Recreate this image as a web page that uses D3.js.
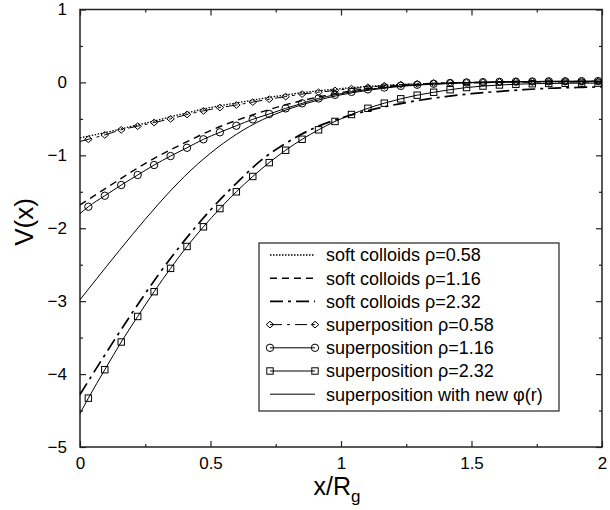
<!DOCTYPE html>
<html>
<head>
<meta charset="utf-8">
<script src="https://cdn.jsdelivr.net/npm/d3@7"></script>
<style>
  body { margin: 0; background: #fff; }
  text { font-family: "Liberation Sans", Arial, sans-serif; }
</style>
</head>
<body>
<div id="chart"></div>
<script>
// values
const xTicks = [0, 0.5, 1, 1.5, 2];
const xTickLabels = ["0", "0.5", "1", "1.5", "2"];
const xMinor = [0.25, 0.75, 1.25, 1.75];
const yTicks = [1, 0, -1, -2, -3, -4, -5];
const yTickLabels = ["1", "0", "\u22121", "\u22122", "\u22123", "\u22124", "\u22125"];
const yMinor = [0.5, -0.5, -1.5, -2.5, -3.5, -4.5];

// soft colloid curves (no markers)
const softX = [0, 0.1, 0.2, 0.3, 0.4, 0.5, 0.6, 0.7, 0.8, 0.9, 1.0, 1.1, 1.2, 1.3, 1.4, 1.5, 1.6, 1.7, 1.8, 1.9, 2.0];
const soft058 = [-0.76, -0.685, -0.60, -0.515, -0.425, -0.345, -0.28, -0.22, -0.165, -0.12, -0.085, -0.055, -0.035, -0.02, -0.01, -0.003, 0.002, 0.005, 0.007, 0.008, 0.008];
const soft116 = [-1.68, -1.45, -1.22, -1.01, -0.83, -0.66, -0.52, -0.40, -0.295, -0.21, -0.14, -0.085, -0.05, -0.03, -0.015, -0.005, 0.002, 0.006, 0.008, 0.01, 0.01];
const soft232 = [-4.28, -3.71, -3.16, -2.64, -2.17, -1.75, -1.38, -1.05, -0.81, -0.62, -0.49, -0.39, -0.31, -0.245, -0.195, -0.155, -0.125, -0.10, -0.08, -0.07, -0.06];
const newPhi = [-2.98, -2.53, -2.09, -1.67, -1.29, -0.97, -0.71, -0.51, -0.365, -0.255, -0.17, -0.11, -0.065, -0.035, -0.015, -0.003, 0.004, 0.009, 0.012, 0.014, 0.015];

// superposition curves: first point at x=0 has no marker
const superX = [0, 0.032, 0.095, 0.158, 0.221, 0.284, 0.347, 0.410, 0.473, 0.536, 0.599, 0.662, 0.725, 0.788, 0.851, 0.914, 0.977, 1.040, 1.103, 1.166, 1.229, 1.292, 1.355, 1.418, 1.481, 1.544, 1.607, 1.670, 1.733, 1.796, 1.859, 1.922, 1.985];
const super058 = [-0.81, -0.78, -0.72, -0.65, -0.60, -0.55, -0.50, -0.44, -0.39, -0.345, -0.31, -0.27, -0.23, -0.195, -0.16, -0.135, -0.11, -0.085, -0.065, -0.045, -0.03, -0.02, -0.01, -0.004, 0.0, 0.004, 0.007, 0.01, 0.012, 0.014, 0.015, 0.016, 0.017];
const super116 = [-1.80, -1.705, -1.554, -1.407, -1.27, -1.133, -1.01, -0.896, -0.78, -0.684, -0.594, -0.506, -0.433, -0.356, -0.287, -0.22, -0.17, -0.13, -0.095, -0.07, -0.048, -0.032, -0.018, -0.008, -0.001, 0.004, 0.008, 0.011, 0.013, 0.015, 0.016, 0.017, 0.018];
const super232 = [-4.54, -4.33, -3.94, -3.56, -3.21, -2.87, -2.55, -2.25, -1.98, -1.73, -1.50, -1.29, -1.10, -0.93, -0.78, -0.65, -0.535, -0.44, -0.355, -0.285, -0.225, -0.175, -0.135, -0.10, -0.07, -0.05, -0.035, -0.025, -0.018, -0.014, -0.012, -0.01, -0.01];

const legendLabels = [
  "soft colloids \u03c1=0.58",
  "soft colloids \u03c1=1.16",
  "soft colloids \u03c1=2.32",
  "superposition \u03c1=0.58",
  "superposition \u03c1=1.16",
  "superposition \u03c1=2.32",
  "superposition with new \u03c6(r)"
];

const width = 610, height = 510;
const svg = d3.select("#chart").append("svg")
  .attr("width", width)
  .attr("height", height);

const x = d3.scaleLinear().domain([0, 2]).range([80, 602]);
const y = d3.scaleLinear().domain([-5, 1]).range([447, 9.5]);

const axisColor = "#222";

// axes with inward ticks, mirrored on top and right
function styleAxis(g) {
  g.select(".domain").remove();
  g.selectAll("line").attr("stroke", axisColor).attr("stroke-width", 1.2);
  g.selectAll("text").attr("fill", "#000").style("font-size", "17px");
}

svg.append("g")
  .attr("transform", "translate(0," + y(-5) + ")")
  .call(d3.axisBottom(x).tickValues(xTicks).tickSize(-6).tickPadding(10)
    .tickFormat((d, i) => xTickLabels[i]))
  .call(styleAxis);
svg.append("g")
  .attr("transform", "translate(0," + y(-5) + ")")
  .call(d3.axisBottom(x).tickValues(xMinor).tickSize(-3).tickFormat(""))
  .call(styleAxis);
svg.append("g")
  .attr("transform", "translate(0," + y(1) + ")")
  .call(d3.axisTop(x).tickValues(xTicks).tickSize(-6).tickFormat(""))
  .call(styleAxis);
svg.append("g")
  .attr("transform", "translate(0," + y(1) + ")")
  .call(d3.axisTop(x).tickValues(xMinor).tickSize(-3).tickFormat(""))
  .call(styleAxis);

svg.append("g")
  .attr("transform", "translate(" + x(0) + ",0)")
  .call(d3.axisLeft(y).tickValues(yTicks).tickSize(-6).tickPadding(13)
    .tickFormat((d, i) => yTickLabels[i]))
  .call(styleAxis);
svg.append("g")
  .attr("transform", "translate(" + x(0) + ",0)")
  .call(d3.axisLeft(y).tickValues(yMinor).tickSize(-3).tickFormat(""))
  .call(styleAxis);
svg.append("g")
  .attr("transform", "translate(" + x(2) + ",0)")
  .call(d3.axisRight(y).tickValues(yTicks).tickSize(-6).tickFormat(""))
  .call(styleAxis);
svg.append("g")
  .attr("transform", "translate(" + x(2) + ",0)")
  .call(d3.axisRight(y).tickValues(yMinor).tickSize(-3).tickFormat(""))
  .call(styleAxis);

// frame
svg.append("rect")
  .attr("x", x(0)).attr("y", y(1))
  .attr("width", x(2) - x(0)).attr("height", y(-5) - y(1))
  .attr("fill", "none").attr("stroke", axisColor).attr("stroke-width", 1.5);

// axis titles
svg.append("text")
  .attr("transform", "translate(33," + 222 + ") rotate(-90)")
  .attr("text-anchor", "middle")
  .style("font-size", "26px")
  .text("V(x)");

const xt = svg.append("text")
  .attr("x", 337).attr("y", 495)
  .attr("text-anchor", "middle")
  .style("font-size", "25px");
xt.append("tspan").text("x/R");
xt.append("tspan").attr("dy", 7).style("font-size", "17px").text("g");

// curves
const line = d3.line()
  .x(d => x(d[0]))
  .y(d => y(d[1]))
  .curve(d3.curveMonotoneX);

const plot = svg.append("g");

const styles = [
  { dash: "1.5,1.5", w: 1.3 },
  { dash: "7,5", w: 1.4 },
  { dash: "13,5,3,5", w: 1.7 },
  { dash: "12,5,3,5", w: 1, marker: "diamond" },
  { dash: null, w: 1, marker: "circle" },
  { dash: null, w: 1, marker: "square" },
  { dash: null, w: 1 }
];

const seriesData = [
  softX.map((v, i) => [v, soft058[i]]),
  softX.map((v, i) => [v, soft116[i]]),
  softX.map((v, i) => [v, soft232[i]]),
  superX.map((v, i) => [v, super058[i]]),
  superX.map((v, i) => [v, super116[i]]),
  superX.map((v, i) => [v, super232[i]]),
  softX.map((v, i) => [v, newPhi[i]])
];

function drawMarker(g, type, cx, cy) {
  if (type === "circle") {
    g.append("circle").attr("cx", cx).attr("cy", cy).attr("r", 3.7)
      .attr("fill", "none").attr("stroke", "#000").attr("stroke-width", 1);
  } else if (type === "square") {
    g.append("rect").attr("x", cx - 3.2).attr("y", cy - 3.2)
      .attr("width", 6.4).attr("height", 6.4)
      .attr("fill", "none").attr("stroke", "#000").attr("stroke-width", 1);
  } else if (type === "diamond") {
    g.append("path")
      .attr("d", "M" + (cx - 3.8) + "," + cy + "L" + cx + "," + (cy - 3.3) +
        "L" + (cx + 3.8) + "," + cy + "L" + cx + "," + (cy + 3.3) + "Z")
      .attr("fill", "none").attr("stroke", "#000").attr("stroke-width", 1);
  }
}

seriesData.forEach((data, k) => {
  const s = styles[k];
  plot.append("path")
    .datum(data)
    .attr("d", line)
    .attr("fill", "none")
    .attr("stroke", "#000")
    .attr("stroke-width", s.w)
    .attr("stroke-dasharray", s.dash);
  if (s.marker) {
    data.slice(1).forEach(d => drawMarker(plot, s.marker, x(d[0]), y(d[1])));
  }
});

// legend
const legend = svg.append("g");
legend.append("rect")
  .attr("x", 259).attr("y", 243)
  .attr("width", 300).attr("height", 168)
  .attr("fill", "#fff").attr("stroke", axisColor).attr("stroke-width", 1.2);

legendLabels.forEach((label, k) => {
  const s = styles[k];
  const ly = 255 + k * 23.2;
  legend.append("line")
    .attr("x1", 270).attr("x2", 315)
    .attr("y1", ly).attr("y2", ly)
    .attr("stroke", "#000").attr("stroke-width", s.w)
    .attr("stroke-dasharray", s.dash);
  if (s.marker) {
    drawMarker(legend, s.marker, 270, ly);
    drawMarker(legend, s.marker, 315, ly);
  }
  legend.append("text")
    .attr("x", 326).attr("y", ly)
    .attr("dy", "0.35em")
    .style("font-size", "18px")
    .text(label);
});
</script>
</body>
</html>
